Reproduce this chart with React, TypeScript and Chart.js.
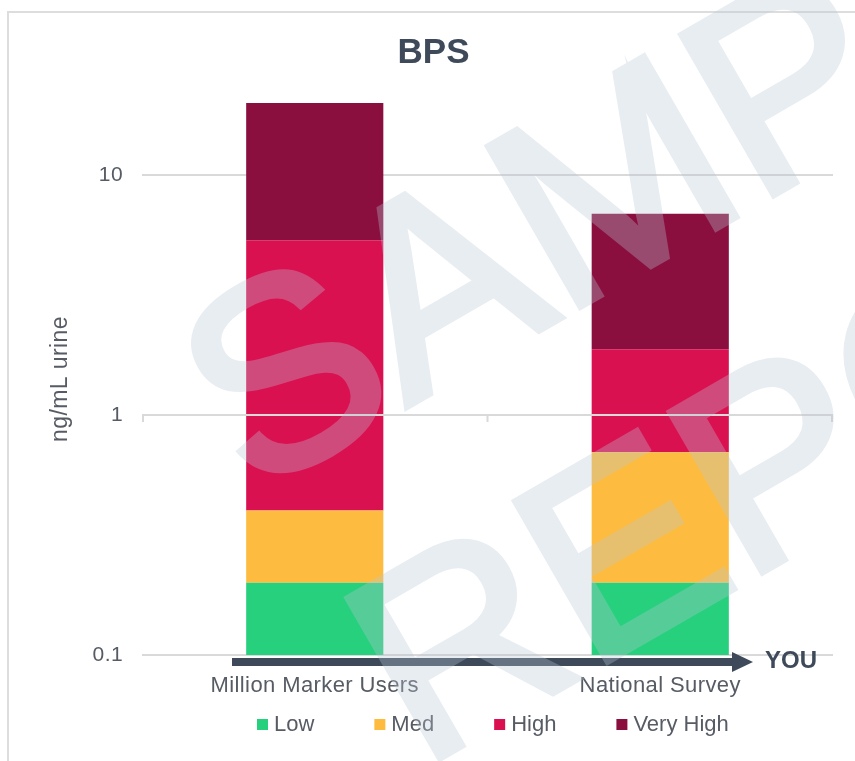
import React, { useEffect, useRef } from 'react';
import { Chart, registerables } from 'chart.js';

Chart.register(...registerables);

// ---- data ----
const categories = ['Million Marker Users', 'National Survey'];
const levelNames = ['Low', 'Med', 'High', 'Very High'];
const levelColors = ['#27D07D', '#FDBC40', '#DA1151', '#8A0F3F'];
// range boundaries (ng/mL) per category
const lowStart = [0.1, 0.1];
const lowEnd = [0.2, 0.2];
const medEnd = [0.4, 0.7];
const highEnd = [5.36, 1.88];
const veryHighEnd = [20, 6.9];
const yTicks = [0.1, 1, 10];
const yMin = 0.1;
const yMax = 20;
const chartTitle = 'BPS';
const yTitle = 'ng/mL urine';
const arrowLabel = 'YOU';
const watermarkLines = ['SAMPLE', 'REPORT'];

const FONT = "'Liberation Sans', Arial, sans-serif";
const TEXT = '#565b64';
const DARK = '#3e4a5a';
const GRID = '#d9d9d9';

const W = 855;
const H = 761;

const overlayPlugin = {
  id: 'overlay',
  beforeDraw(chart: any) {
    chart.ctx.letterSpacing = '0.4px';
  },
  afterDatasetsDraw(chart: any) {
    const { ctx, chartArea, scales } = chart;
    const y1 = scales.y.getPixelForValue(1);
    const xs = scales.x;
    const mid = (xs.getPixelForValue(0) + xs.getPixelForValue(1)) / 2;
    ctx.save();
    ctx.strokeStyle = GRID;
    ctx.lineWidth = 2;
    ctx.beginPath();
    ctx.moveTo(chartArea.left, y1);
    ctx.lineTo(chartArea.right, y1);
    for (const x of [chartArea.left + 1, mid, chartArea.right - 1]) {
      ctx.moveTo(x, y1);
      ctx.lineTo(x, y1 + 7);
    }
    ctx.stroke();
    ctx.restore();
  },
  afterDraw(chart: any) {
    const { ctx, chartArea } = chart;
    ctx.save();
    ctx.letterSpacing = '0px';
    // title
    ctx.fillStyle = DARK;
    ctx.font = `bold 35px ${FONT}`;
    ctx.textAlign = 'center';
    ctx.textBaseline = 'middle';
    ctx.fillText(chartTitle, W / 2 + 6, 53);

    // arrow
    const ay = chartArea.bottom + 7;
    const ax0 = chartArea.left + 90;
    const ahead = chartArea.right - 101;
    const atip = chartArea.right - 80;
    ctx.fillStyle = DARK;
    ctx.fillRect(ax0, ay - 4, ahead - ax0 + 1, 8);
    ctx.beginPath();
    ctx.moveTo(ahead, ay - 10);
    ctx.lineTo(atip, ay);
    ctx.lineTo(ahead, ay + 10);
    ctx.closePath();
    ctx.fill();
    ctx.font = `bold 24px ${FONT}`;
    ctx.textAlign = 'left';
    ctx.fillText(arrowLabel, atip + 12, ay - 1);

    // legend
    ctx.font = `22px ${FONT}`;
    ctx.textBaseline = 'middle';
    let lx = chartArea.left + 115;
    const ly = 725;
    levelNames.forEach((name, i) => {
      ctx.fillStyle = levelColors[i];
      ctx.fillRect(lx, ly - 6, 11, 11);
      ctx.fillStyle = TEXT;
      ctx.fillText(name, lx + 17, ly);
      lx += 17 + ctx.measureText(name).width + 60;
    });
    ctx.restore();

    // watermark (drawn opaque off-screen, then blended)
    const off = document.createElement('canvas');
    off.width = W;
    off.height = H;
    const o = off.getContext('2d');
    if (o) {
      o.translate(252, 496);
      o.rotate((-30 * Math.PI) / 180);
      o.font = `268px ${FONT}`;
      o.fillStyle = 'rgb(185, 198, 212)';
      o.strokeStyle = 'rgb(185, 198, 212)';
      o.lineWidth = 7;
      o.lineJoin = 'miter';
      o.textBaseline = 'alphabetic';
      watermarkLines.forEach((line, i) => {
        const dx = i * 10;
        const dy = i * 321;
        o.fillText(line, dx, dy);
        o.strokeText(line, dx, dy);
      });
      ctx.save();
      ctx.globalAlpha = 0.32;
      ctx.drawImage(off, 0, 0, W, H);
      ctx.restore();
    }
  },
};

export default function App() {
  const ref = useRef<HTMLCanvasElement | null>(null);
  useEffect(() => {
    if (!ref.current) return;
    const bounds = [lowStart, lowEnd, medEnd, highEnd, veryHighEnd];
    const datasets = levelNames.map((name, i) => ({
      label: name,
      data: categories.map((_, j) => [bounds[i][j], bounds[i + 1][j]]),
      backgroundColor: levelColors[i],
      borderWidth: 0,
      categoryPercentage: 1,
      barPercentage: 0.397,
    }));
    const chart = new Chart(ref.current, {
      type: 'bar',
      data: { labels: categories, datasets },
      options: {
        responsive: false,
        animation: false,
        layout: { padding: { top: 103, right: 22, left: 0, bottom: 0 } },
        plugins: {
          legend: { display: false },
          title: { display: false },
          tooltip: { enabled: false },
        },
        scales: {
          x: {
            stacked: true,
            grid: { display: false },
            border: { display: false },
            ticks: { color: TEXT, font: { family: FONT, size: 22 }, padding: 10 },
            afterFit: (s: any) => {
              s.height = H - 655;
            },
          },
          y: {
            type: 'logarithmic',
            min: yMin,
            max: yMax,
            stacked: false,
            afterBuildTicks: (s: any) => {
              s.ticks = yTicks.map((v) => ({ value: v }));
            },
            grid: { color: GRID, lineWidth: 2, drawTicks: false },
            border: { display: false },
            ticks: {
              color: TEXT,
              font: { family: FONT, size: 21 },
              padding: 19,
              callback: (v: any) => String(v),
            },
            title: {
              display: true,
              text: yTitle,
              color: TEXT,
              font: { family: FONT, size: 23 },
              padding: { top: 47 },
            },
            afterFit: (s: any) => {
              s.width = 142;
            },
          },
        },
      } as any,
      plugins: [overlayPlugin],
    });
    return () => chart.destroy();
  }, []);

  return (
    <div style={{ position: 'absolute', left: 0, top: 0, width: W, height: H, background: '#fff', overflow: 'hidden' }}>
      <div
        style={{
          position: 'absolute',
          left: 7,
          top: 11,
          width: 900,
          height: 800,
          border: '2px solid #dddddd',
          boxSizing: 'border-box',
        }}
      />
      <canvas ref={ref} width={W} height={H} style={{ position: 'absolute', left: 0, top: 0, display: 'block' }} />
    </div>
  );
}
